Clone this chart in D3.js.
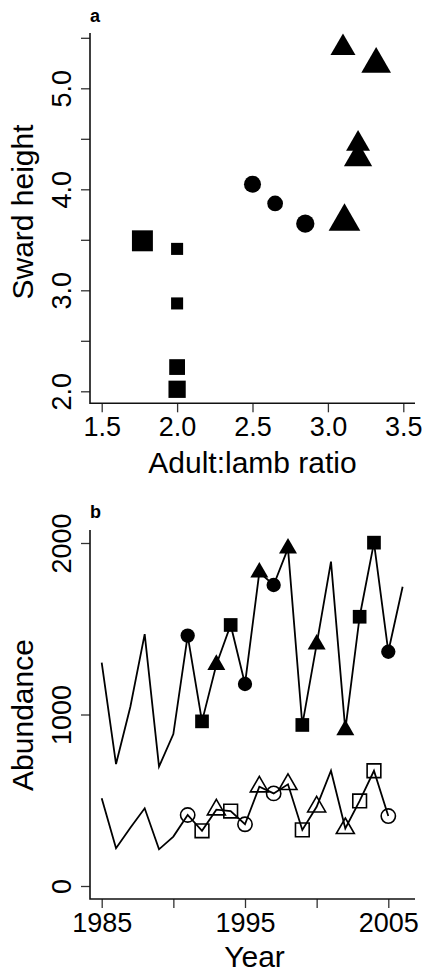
<!DOCTYPE html>
<html>
<head>
<meta charset="utf-8">
<script src="https://cdn.jsdelivr.net/npm/d3@7"></script>
<style>
  body { margin: 0; background: #fff; }
  svg { display: block; font-family: "Liberation Sans", Arial, sans-serif; }
</style>
</head>
<body>
<svg id="chart" width="423" height="972"></svg>
<script>
// panel a: sward height vs adult:lamb ratio
var ratio = [1.77, 2.0, 2.0, 2.0, 2.0, 2.5, 2.65, 2.85, 3.10, 3.32, 3.20, 3.20, 3.11];
var sward = [3.49, 3.41, 2.87, 2.24, 2.02, 4.05, 3.86, 3.66, 5.40, 5.24, 4.45, 4.31, 3.68];
var groupA = ["square", "square", "square", "square", "square",
  "circle", "circle", "circle",
  "triangle", "triangle", "triangle", "triangle", "triangle"];
var weightA = [1.53, 0.88, 0.88, 1.15, 1.26, 1.19, 1.1, 1.28, 1.39, 1.65, 1.33, 1.57, 1.76];
var ticksAx = [1.5, 2.0, 2.5, 3.0, 3.5];
var ticksAy = [2.0, 2.5, 3.0, 3.5, 4.0, 4.5, 5.0, 5.5];

// panel b: abundance by year
var years = [1985, 1986, 1987, 1988, 1989, 1990, 1991, 1992, 1993, 1994, 1995,
  1996, 1997, 1998, 1999, 2000, 2001, 2002, 2003, 2004, 2005, 2006];
var upper = [1302, 711, 1045, 1469, 696, 886, 1460, 960, 1290, 1522, 1178,
  1829, 1755, 1969, 939, 1409, 1891, 910, 1570, 2002, 1366, 1745];
var lower = [511, 220, 340, 453, 214, 288, 414, 322, 445, 437, 360,
  579, 540, 593, 327, 462, 672, 336, 496, 672, 408, null];
var markB = [null, null, null, null, null, null, "circle", "square", "triangle", "square", "circle",
  "triangle", "circle", "triangle", "square", "triangle", null, "triangle", "square", "square", "circle", null];
var ticksBx = [1985, 1990, 1995, 2000, 2005];
var ticksBy = [0, 1000, 2000];

var svg = d3.select("#chart");
var tickFont = 27, titleFont = 30;

function marker(type, cx, cy, cex) {
  var p = d3.path();
  if (type == "circle") {
    var r = 7.15 * cex;
    p.moveTo(cx + r, cy);
    p.arc(cx, cy, r, 0, 2 * Math.PI);
  } else if (type == "square") {
    var h = 6.85 * cex;
    p.rect(cx - h, cy - h, 2 * h, 2 * h);
  } else {
    var w = 18 * cex, th = w * 0.866;
    p.moveTo(cx, cy - 2 * th / 3);
    p.lineTo(cx + w / 2, cy + th / 3);
    p.lineTo(cx - w / 2, cy + th / 3);
    p.closePath();
  }
  return p.toString();
}

function frame(x, y, left, right, top, bottom, xt, yt, xfmt, yfmt) {
  var g = svg.append("g");
  var ax = g.append("g").attr("transform", "translate(0," + bottom + ")")
    .call(d3.axisBottom(x).tickValues(xt).tickSize(9).tickSizeOuter(0).tickFormat(xfmt));
  var ay = g.append("g").attr("transform", "translate(" + left + ",0)")
    .call(d3.axisLeft(y).tickValues(yt).tickSize(9).tickSizeOuter(0).tickFormat(yfmt));
  [ax, ay].forEach(function(a) {
    a.select(".domain").remove();
    a.selectAll(".tick line").attr("stroke", "#333").attr("stroke-width", 1.3);
    a.selectAll("text").attr("font-size", tickFont).attr("fill", "#000")
      .attr("font-family", "Liberation Sans, Arial, sans-serif");
  });
  ax.selectAll("text").attr("y", 33).attr("dy", 0);
  ay.selectAll("text").attr("x", null).attr("dy", 0).attr("text-anchor", "middle")
    .attr("transform", "translate(-19,0) rotate(-90)");
  // L-shaped box
  g.append("path")
    .attr("d", "M" + left + "," + top + "V" + bottom + "H" + right)
    .attr("fill", "none").attr("stroke", "#111").attr("stroke-width", 1.6);
  return g;
}

function title(text, x, y, rot) {
  svg.append("text").attr("transform", "translate(" + x + "," + y + ")" + (rot ? " rotate(-90)" : ""))
    .attr("text-anchor", "middle").attr("font-size", titleFont).text(text);
}

// ---- panel a ----
var xa = d3.scaleLinear().domain([1.5, 3.5]).range([101.7, 403.3]);
var ya = d3.scaleLinear().domain([2, 5]).range([391.3, 88.3]);
frame(xa, ya, 90, 415, 33, 403.3, ticksAx, ticksAy,
  d3.format(".1f"),
  function(d) { return Math.round(d * 10) % 10 == 0 ? d3.format(".1f")(d) : ""; });

svg.append("g").selectAll("path").data(ratio).enter().append("path")
  .attr("d", function(d, i) { return marker(groupA[i], xa(d), ya(sward[i]), weightA[i]); })
  .attr("fill", "#000");

svg.append("text").attr("x", 90).attr("y", 21.5).attr("font-size", 18)
  .attr("font-weight", "bold").text("a");
title("Adult:lamb ratio", 252.5, 473, false);
title("Sward height", 33, 212, true);

// ---- panel b ----
var xb = d3.scaleLinear().domain([1985, 2005]).range([101.7, 388.3]);
var yb = d3.scaleLinear().domain([0, 2000]).range([886, 543]);
frame(xb, yb, 90, 415, 530, 899, ticksBx, ticksBy,
  function(d) { return d % 10 == 5 ? d : ""; },
  d3.format("d"));

var line = d3.line()
  .defined(function(d) { return d[1] != null; })
  .x(function(d) { return xb(d[0]); })
  .y(function(d) { return yb(d[1]); });

[upper, lower].forEach(function(series, k) {
  var pts = years.map(function(yr, i) { return [yr, series[i]]; });
  svg.append("path").datum(pts).attr("d", line)
    .attr("fill", "none").attr("stroke", "#000").attr("stroke-width", 1.8)
    .attr("stroke-linejoin", "miter");
  svg.append("g").selectAll("path")
    .data(pts.filter(function(d, i) { return markB[i] && d[1] != null; }))
    .enter().append("path")
    .attr("d", function(d) { return marker(markB[years.indexOf(d[0])], xb(d[0]), yb(d[1]), 1); })
    .attr("fill", k == 0 ? "#000" : "none")
    .attr("stroke", "#000").attr("stroke-width", k == 0 ? 0 : 1.6);
});

svg.append("text").attr("x", 90).attr("y", 518).attr("font-size", 18)
  .attr("font-weight", "bold").text("b");
title("Year", 254.5, 967, false);
title("Abundance", 33, 715, true);
</script>
</body>
</html>
